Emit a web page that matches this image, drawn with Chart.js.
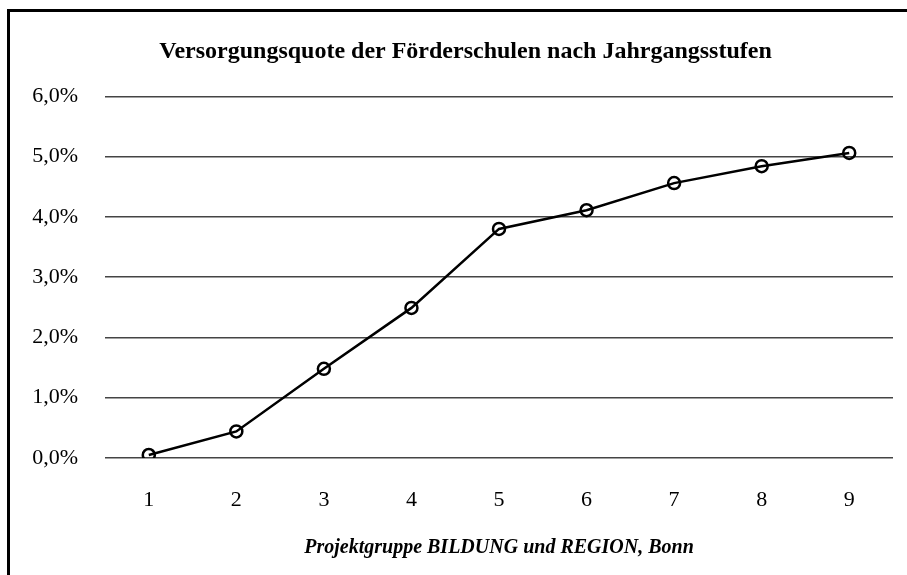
<!DOCTYPE html>
<html>
<head>
<meta charset="utf-8">
<script src="https://cdn.jsdelivr.net/npm/chart.js@4/dist/chart.umd.min.js"></script>
<style>
  body { margin: 0; overflow: hidden; background: #fff; }
  #frame { position: absolute; left: 7px; top: 9px; width: 1000px; height: 700px;
           border-left: 3px solid #000; border-top: 3px solid #000; }
  #wrap { position: absolute; left: 0; top: 0; width: 907px; height: 575px; }
</style>
</head>
<body>
<div id="frame"></div>
<div id="wrap"><canvas id="quote"></canvas></div>
<script>
// Jahrgangsstufen
var xValues = ["1", "2", "3", "4", "5", "6", "7", "8", "9"];
// Versorgungsquote in %
var yValues = [0.05, 0.44, 1.48, 2.49, 3.80, 4.11, 4.56, 4.84, 5.06];

var serif = "'Liberation Serif', 'Times New Roman', serif";

// the y labels stick out left of the axis box, keep them from being clipped
var unclipLabels = {
  id: "unclipLabels",
  afterLayout: function (chart) { chart.scales.y.left = 0; }
};

new Chart("quote", {
  type: "line",
  data: {
    labels: xValues,
    datasets: [{
      data: yValues,
      borderColor: "#000",
      borderWidth: 2.5,
      pointStyle: "circle",
      pointRadius: 6,
      pointBorderWidth: 2.5,
      pointBackgroundColor: "rgba(0,0,0,0)",
      pointBorderColor: "#000",
      tension: 0
    }]
  },
  options: {
    responsive: true,
    maintainAspectRatio: false,
    animation: false,
    layout: { padding: { left: 38, right: 14, top: 0, bottom: 0 } },
    plugins: {
      legend: { display: false },
      tooltip: { enabled: false },
      title: {
        display: true,
        text: "Versorgungsquote der Förderschulen nach Jahrgangsstufen",
        color: "#000",
        font: { family: serif, size: 24, weight: "bold" },
        padding: { top: 37, bottom: 30.5 }
      }
    },
    scales: {
      x: {
        offset: true,
        grid: { display: false },
        border: { display: false },
        ticks: { color: "#000", padding: 21, font: { family: serif, size: 22 } },
        title: {
          display: true,
          text: "Projektgruppe BILDUNG und REGION, Bonn",
          color: "#000",
          font: { family: serif, size: 20, weight: "bold", style: "italic" },
          padding: { top: 0, bottom: 15 }
        },
        afterFit: function (scale) { scale.height = 117; }
      },
      y: {
        min: 0,
        max: 6,
        grid: { color: "#444", lineWidth: 1.5, drawTicks: false },
        border: { display: false },
        ticks: {
          stepSize: 1,
          color: "#000",
          padding: 27,
          font: { family: serif, size: 22 },
          callback: function (v) { return v.toFixed(1).replace(".", ",") + "%"; }
        },
        afterFit: function (scale) { scale.width = 67; }
      }
    }
  },
  plugins: [unclipLabels]
});
</script>
</body>
</html>
